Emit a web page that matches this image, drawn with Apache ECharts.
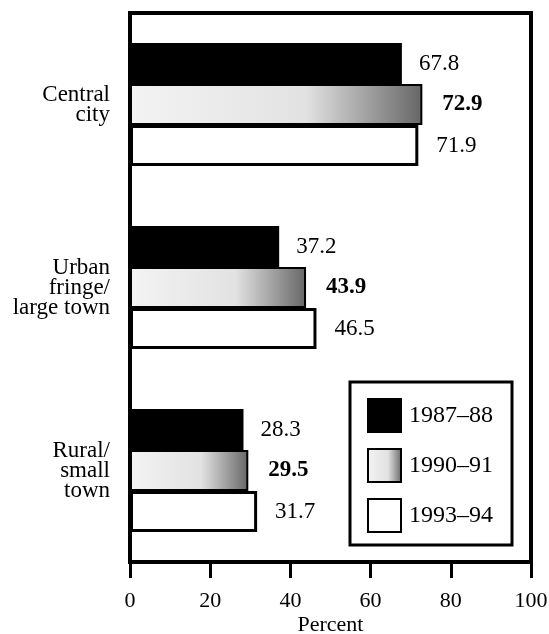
<!DOCTYPE html>
<html>
<head>
<meta charset="utf-8">
<script src="https://cdn.jsdelivr.net/npm/echarts@6/dist/echarts.min.js"></script>
<style>
  html, body { margin: 0; padding: 0; background: #fff; }
  #chart { width: 549px; height: 634px; }
</style>
</head>
<body>
<div id="chart"></div>
<script>
// 数据
const categories = ['Central\ncity', 'Urban\nfringe/\nlarge town', 'Rural/\nsmall\ntown']
const seriesNames = ['1987\u201388', '1990\u201391', '1993\u201394']
const values1987 = [67.8, 37.2, 28.3]
const values1990 = [72.9, 43.9, 29.5]
const values1993 = [71.9, 46.5, 31.7]
const xTicks = [0, 20, 40, 60, 80, 100]

const serif = 'Liberation Serif'

// 灰色点状条：用横向渐变模拟
const speckle = new echarts.graphic.LinearGradient(0, 0, 1, 0, [
  { offset: 0, color: '#f3f3f3' },
  { offset: 0.6, color: '#e2e2e2' },
  { offset: 0.78, color: '#ababab' },
  { offset: 1, color: '#666' }
])

const barLabel = (bold, distance) => ({
  show: true,
  position: 'right',
  distance: distance,
  color: '#000',
  fontFamily: serif,
  fontSize: 23,
  fontWeight: bold ? 'bold' : 'normal',
  formatter: p => p.value.toFixed(1)
})

const chart = echarts.init(document.getElementById('chart'), null, { renderer: 'canvas' })

chart.setOption({
  animation: false,
  backgroundColor: '#fff',
  grid: {
    left: 130, right: 18, top: 13, bottom: 72,
    outerBoundsMode: 'none',
    containLabel: false,
    show: true, borderColor: '#000', borderWidth: 4
  },
  legend: {
    orient: 'vertical',
    left: 350,
    top: 382,
    itemWidth: 33,
    itemHeight: 33,
    itemGap: 15,
    padding: [16, 19, 12, 17],
    borderColor: '#000',
    borderWidth: 3,
    backgroundColor: '#fff',
    icon: 'rect',
    data: seriesNames,
    textStyle: { color: '#000', fontFamily: serif, fontSize: 24, padding: [0, 0, 0, 3] }
  },
  xAxis: {
    type: 'value',
    min: xTicks[0],
    max: xTicks[xTicks.length - 1],
    interval: 20,
    name: 'Percent',
    nameLocation: 'middle',
    nameGap: 52,
    nameMoveOverlap: false,
    nameTextStyle: { color: '#000', fontFamily: serif, fontSize: 22 },
    axisLine: { show: true, lineStyle: { color: '#000', width: 4 } },
    axisTick: { show: true, inside: false, length: 16, lineStyle: { color: '#000', width: 3 } },
    axisLabel: { color: '#000', fontFamily: serif, fontSize: 22, margin: 28 },
    splitLine: { show: false }
  },
  yAxis: {
    type: 'category',
    inverse: true,
    data: categories,
    axisLine: { show: true, lineStyle: { color: '#000', width: 4 } },
    axisTick: { show: false },
    axisLabel: {
      color: '#000', fontFamily: serif, fontSize: 23, lineHeight: 20,
      align: 'right', margin: 20
    }
  },
  series: [
    {
      name: seriesNames[0],
      type: 'bar',
      data: values1987,
      barWidth: 41,
      barGap: '0%',
      itemStyle: { color: '#000', borderColor: '#000', borderWidth: 2 },
      label: barLabel(false, 17)
    },
    {
      name: seriesNames[1],
      type: 'bar',
      data: values1990,
      barWidth: 41,
      barGap: '0%',
      itemStyle: { color: speckle, borderColor: '#000', borderWidth: 2 },
      label: barLabel(true, 20)
    },
    {
      name: seriesNames[2],
      type: 'bar',
      data: values1993,
      barWidth: 41,
      barGap: '0%',
      itemStyle: { color: '#fff', borderColor: '#000', borderWidth: 3 },
      label: barLabel(false, 18)
    }
  ]
})
</script>
</body>
</html>
